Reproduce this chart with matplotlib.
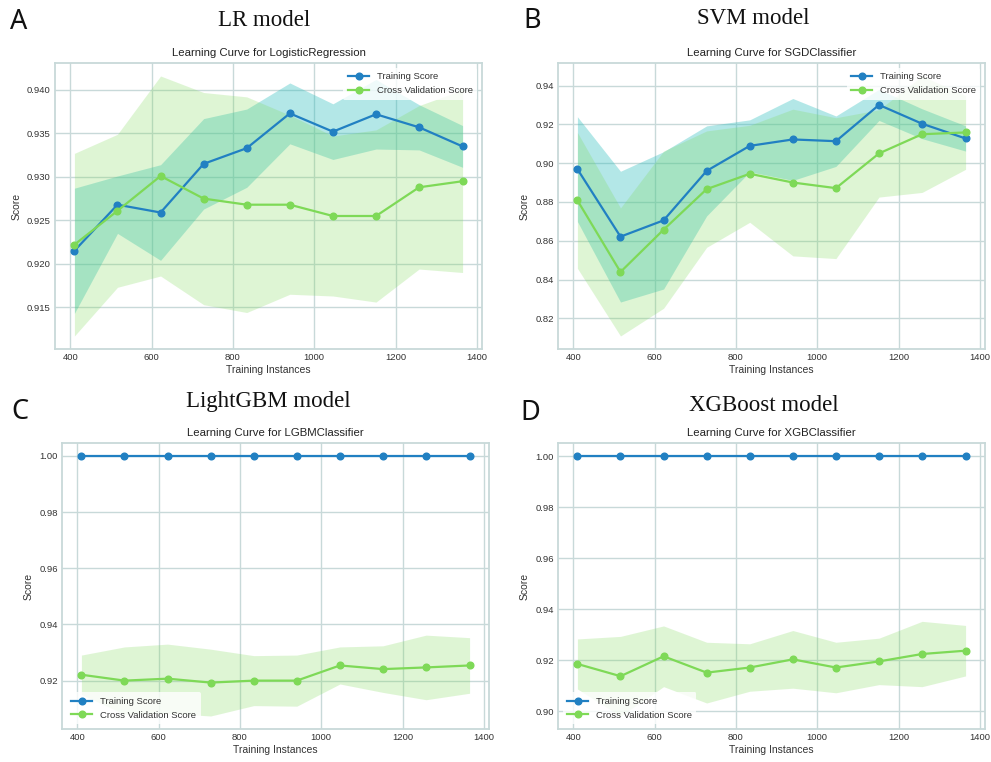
import matplotlib
matplotlib.use('Agg')
import matplotlib.pyplot as plt
import numpy as np
from matplotlib.ticker import MultipleLocator, FormatStrFormatter

# ---------------- data ----------------
train_sizes = [410, 516, 622, 728, 834, 940, 1046, 1152, 1258, 1365]

lr_train_mean = [0.9215, 0.9268, 0.9259, 0.9315, 0.9333, 0.9373, 0.9352, 0.9372, 0.9357, 0.9335]
lr_train_std = [0.0072, 0.0033, 0.0055, 0.0052, 0.0045, 0.0035, 0.0032, 0.0040, 0.0026, 0.0024]
lr_cv_mean = [0.9222, 0.9261, 0.9301, 0.9275, 0.9268, 0.9268, 0.9255, 0.9255, 0.9288, 0.9295]
lr_cv_std = [0.0105, 0.0088, 0.0115, 0.0122, 0.0124, 0.0103, 0.0092, 0.0099, 0.0094, 0.0105]

svm_train_mean = [0.8969, 0.8621, 0.8705, 0.8960, 0.9089, 0.9122, 0.9113, 0.9300, 0.9203, 0.9127]
svm_train_std = [0.0270, 0.0337, 0.0354, 0.0232, 0.0134, 0.0211, 0.0130, 0.0080, 0.0077, 0.0065]
svm_cv_mean = [0.8808, 0.8439, 0.8657, 0.8866, 0.8945, 0.8900, 0.8871, 0.9050, 0.9149, 0.9158]
svm_cv_std = [0.0350, 0.0330, 0.0405, 0.0300, 0.0250, 0.0378, 0.0363, 0.0225, 0.0300, 0.0190]

lgbm_train_mean = [1.0, 1.0, 1.0, 1.0, 1.0, 1.0, 1.0, 1.0, 1.0, 1.0]
lgbm_train_std = [0.0, 0.0, 0.0, 0.0, 0.0, 0.0, 0.0, 0.0, 0.0, 0.0]
lgbm_cv_mean = [0.9221, 0.9200, 0.9207, 0.9193, 0.9200, 0.9200, 0.9254, 0.9241, 0.9247, 0.9254]
lgbm_cv_std = [0.0070, 0.0120, 0.0123, 0.0119, 0.0089, 0.0091, 0.0066, 0.0083, 0.0115, 0.0099]

xgb_train_mean = [1.0, 1.0, 1.0, 1.0, 1.0, 1.0, 1.0, 1.0, 1.0, 1.0]
xgb_train_std = [0.0, 0.0, 0.0, 0.0, 0.0, 0.0, 0.0, 0.0, 0.0, 0.0]
xgb_cv_mean = [0.9185, 0.9137, 0.9215, 0.9151, 0.9171, 0.9203, 0.9171, 0.9195, 0.9224, 0.9237]
xgb_cv_std = [0.0098, 0.0156, 0.0119, 0.0119, 0.0093, 0.0113, 0.0099, 0.0091, 0.0128, 0.0099]

panel_letters = ["A", "B", "C", "D"]
model_titles = ["LR model", "SVM model", "LightGBM model", "XGBoost model"]
sub_titles = ["Learning Curve for LogisticRegression", "Learning Curve for SGDClassifier",
              "Learning Curve for LGBMClassifier", "Learning Curve for XGBClassifier"]

# ---------------- style ----------------
BLUE = '#2180c2'
GREEN = '#7ed957'
TRAIN_FILL = '#26bdbd'
GRID = '#c8d9d9'
TXT = '#333333'

W, H = 991, 762
fig = plt.figure(figsize=(W / 100, H / 100), dpi=100)
plt.rcParams['font.family'] = ['Liberation Sans', 'DejaVu Sans']

# axes boxes in pixel coords: left, top, right, bottom
boxes = [(55, 63, 482, 349), (558, 63, 985, 349), (62, 443, 489, 729), (558, 443, 985, 729)]

panels = [
    (lr_train_mean, lr_train_std, lr_cv_mean, lr_cv_std, 0.005, '%.3f', 'upper right'),
    (svm_train_mean, svm_train_std, svm_cv_mean, svm_cv_std, 0.02, '%.2f', 'upper right'),
    (lgbm_train_mean, lgbm_train_std, lgbm_cv_mean, lgbm_cv_std, 0.02, '%.2f', 'lower left'),
    (xgb_train_mean, xgb_train_std, xgb_cv_mean, xgb_cv_std, 0.02, '%.2f', 'lower left'),
]

x = np.array(train_sizes)
for i, (tm, ts, cm, cs, ystep, fmt, legloc) in enumerate(panels):
    l, t, r, b = boxes[i]
    ax = fig.add_axes([l / W, 1 - b / H, (r - l) / W, (b - t) / H])
    tm, ts, cm, cs = map(np.array, (tm, ts, cm, cs))
    ax.fill_between(x, tm - ts, tm + ts, color=TRAIN_FILL, alpha=0.35, lw=0)
    ax.fill_between(x, cm - cs, cm + cs, color=GREEN, alpha=0.25, lw=0)
    ax.plot(x, tm, 'o-', color=BLUE, lw=1.6, ms=4.8, label='Training Score')
    ax.plot(x, cm, 'o-', color=GREEN, lw=1.6, ms=4.8, label='Cross Validation Score')
    ax.xaxis.set_major_locator(MultipleLocator(200))
    ax.yaxis.set_major_locator(MultipleLocator(ystep))
    ax.yaxis.set_major_formatter(FormatStrFormatter(fmt))
    ax.grid(True, color=GRID, lw=1.0)
    ax.set_axisbelow(True)
    for sp in ax.spines.values():
        sp.set_color(GRID)
        sp.set_linewidth(1.3)
    ax.tick_params(length=0, labelsize=6.8, colors=TXT, pad=3)
    ax.set_xlabel('Training Instances', fontsize=7.5, color=TXT, labelpad=2)
    ax.set_ylabel('Score', fontsize=7.5, color=TXT, labelpad=4)
    ax.set_title(sub_titles[i], fontsize=8.2, color='#222222', pad=5)
    leg = ax.legend(loc=legloc, fontsize=6.8, frameon=True, facecolor='white',
                    framealpha=0.8, edgecolor='none', borderpad=0.5, handlelength=2.2)
    for txt in leg.get_texts():
        txt.set_color(TXT)

# panel letters and model titles
letter_pos = [(10, 22), (523, 21), (11, 412), (520, 413)]
title_pos = [(264, 21), (753, 19), (268, 402), (764, 405)]
for i in range(4):
    lx, ly = letter_pos[i]
    fig.text(lx / W, 1 - ly / H, panel_letters[i], fontsize=19.5, family='Noto Sans',
             ha='left', va='center', color='#111111')
    tx, ty = title_pos[i]
    fig.text(tx / W, 1 - ty / H, model_titles[i], fontsize=16.5, family='Liberation Serif',
             ha='center', va='center', color='#111111')

fig.savefig('out.png', dpi=100)
